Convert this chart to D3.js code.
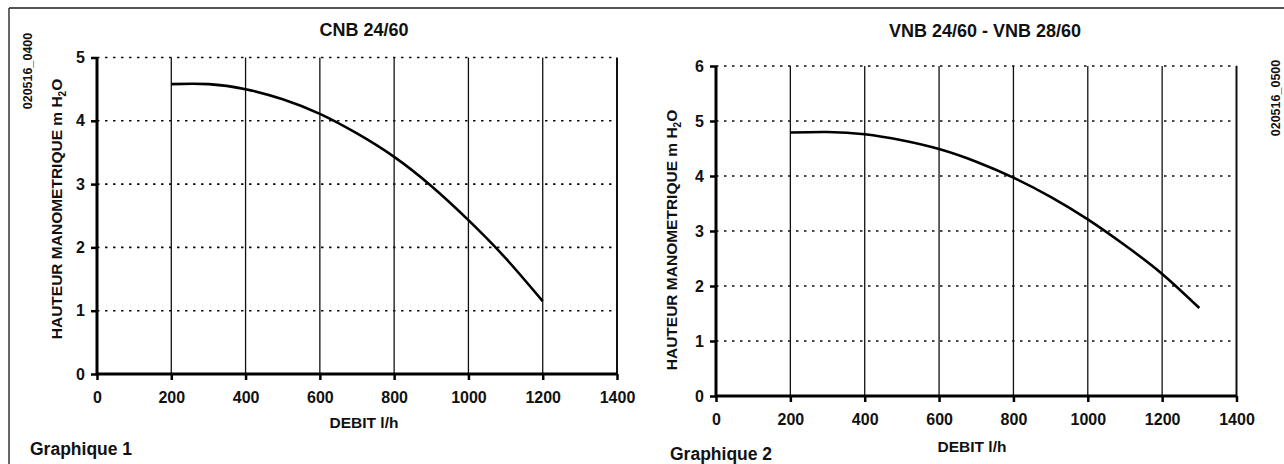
<!DOCTYPE html>
<html>
<head>
<meta charset="utf-8">
<script src="https://cdn.jsdelivr.net/npm/d3@7"></script>
<style>
  body { margin:0; background:#fff; }
  svg text { font-family: "Liberation Sans", Arial, sans-serif; font-weight: bold; fill:#111; }
</style>
</head>
<body>
<div class="svg-container"></div>
<script>
//data
const debitTicks = [0, 200, 400, 600, 800, 1000, 1200, 1400];

const cnbTitle = "CNB 24/60";
const cnbCode = "020516_0400";
const cnbHauteurTicks = [0, 1, 2, 3, 4, 5];
const cnbDebit = [200, 300, 400, 500, 600, 700, 800, 900, 1000, 1100, 1200];
const cnbHauteur = [4.58, 4.58, 4.50, 4.34, 4.11, 3.80, 3.43, 2.97, 2.43, 1.83, 1.15];

const vnbTitle = "VNB 24/60 - VNB 28/60";
const vnbCode = "020516_0500";
const vnbHauteurTicks = [0, 1, 2, 3, 4, 5, 6];
const vnbDebit = [200, 300, 400, 500, 600, 700, 800, 900, 1000, 1100, 1200, 1300];
const vnbHauteur = [4.79, 4.80, 4.76, 4.65, 4.49, 4.26, 3.97, 3.62, 3.21, 2.74, 2.22, 1.60];

const W = 1284, H = 464;

const svg = d3.select(".svg-container")
    .append('svg')
    .attr('width', W)
    .attr('height', H);

//page frame (top and left edges only)
svg.append('line').attr('x1', 9).attr('x2', W).attr('y1', 8).attr('y2', 8)
    .attr('stroke', '#555').attr('stroke-width', 2);
svg.append('line').attr('x1', 9).attr('x2', 9).attr('y1', 8).attr('y2', H)
    .attr('stroke', '#333').attr('stroke-width', 1.5);

function drawPanel(p) {
    const x = d3.scaleLinear().domain([0, 1400]).range([p.left, p.right]);
    const y = d3.scaleLinear().domain([0, d3.max(p.yTicks)]).range([p.bottom, p.top]);
    const g = svg.append('g');

    //dotted horizontal grid
    g.selectAll('.hgrid')
        .data(p.yTicks.filter(d => d > 0))
        .join('line')
        .attr('x1', p.left).attr('x2', p.right)
        .attr('y1', d => y(d)).attr('y2', d => y(d))
        .attr('stroke', '#111').attr('stroke-width', 1.6)
        .attr('stroke-dasharray', '2.5,5.5');

    //solid vertical grid
    g.selectAll('.vgrid')
        .data(debitTicks.filter(d => d > 0))
        .join('line')
        .attr('x1', d => x(d)).attr('x2', d => x(d))
        .attr('y1', p.top).attr('y2', p.bottom)
        .attr('stroke', '#111').attr('stroke-width', d => d === 1400 ? 2 : 1.3);

    //x axis
    const xAxis = d3.axisBottom(x).tickValues(debitTicks).tickFormat(d3.format('d')).tickSize(6).tickPadding(12);
    g.append('g')
        .attr('transform', `translate(0, ${p.bottom})`)
        .call(xAxis)
        .call(a => a.select('.domain').attr('stroke-width', 3).attr('d', `M${p.left},0H${p.right}`))
        .call(a => a.selectAll('.tick line').attr('stroke-width', 2.5))
        .call(a => a.selectAll('.tick text').attr('font-size', 16));

    //y axis
    const yAxis = d3.axisLeft(y).tickValues(p.yTicks).tickFormat(d3.format('d')).tickSize(6).tickPadding(6);
    g.append('g')
        .attr('transform', `translate(${p.left}, 0)`)
        .call(yAxis)
        .call(a => a.select('.domain').attr('stroke-width', 3).attr('d', `M0,${p.bottom}V${p.top}`))
        .call(a => a.selectAll('.tick line').attr('stroke-width', 2.5))
        .call(a => a.selectAll('.tick text').attr('font-size', 16));

    //pump curve
    const line = d3.line()
        .x((d, i) => x(p.debit[i]))
        .y(d => y(d))
        .curve(d3.curveNatural);
    g.append('path')
        .datum(p.hauteur)
        .attr('d', line)
        .attr('fill', 'none')
        .attr('stroke', '#000')
        .attr('stroke-width', 2.6);

    //title
    g.append('text')
        .attr('x', p.titleX).attr('y', p.titleY)
        .attr('text-anchor', 'middle')
        .attr('font-size', 18)
        .text(p.title);

    //x label
    g.append('text')
        .attr('x', p.debitX).attr('y', p.debitY)
        .attr('text-anchor', 'middle')
        .attr('font-size', 15.5)
        .text('DEBIT l/h');

    //y label with subscript
    const yl = g.append('text')
        .attr('transform', `translate(${p.yLabX}, ${p.yLabY}) rotate(-90)`)
        .attr('text-anchor', 'middle')
        .attr('font-size', 15.5);
    yl.append('tspan').text('HAUTEUR MANOMETRIQUE m H');
    yl.append('tspan').attr('font-size', 10).attr('dy', 4).text('2');
    yl.append('tspan').attr('dy', -4).text('O');

    //reference code
    g.append('text')
        .attr('transform', `translate(${p.codeX}, ${p.codeY}) rotate(-90)`)
        .attr('text-anchor', 'middle')
        .attr('font-size', 12.5)
        .text(p.code);

    //caption
    g.append('text')
        .attr('x', p.capX).attr('y', p.capY)
        .attr('font-size', 17.5)
        .text(p.caption);
}

drawPanel({
    left: 97, right: 617, top: 57.5, bottom: 374,
    yTicks: cnbHauteurTicks, debit: cnbDebit, hauteur: cnbHauteur,
    title: cnbTitle, titleX: 364, titleY: 36,
    debitX: 364, debitY: 428,
    yLabX: 62, yLabY: 209,
    code: cnbCode, codeX: 32, codeY: 71,
    caption: 'Graphique 1', capX: 30, capY: 455
});

drawPanel({
    left: 716, right: 1236.5, top: 66, bottom: 396,
    yTicks: vnbHauteurTicks, debit: vnbDebit, hauteur: vnbHauteur,
    title: vnbTitle, titleX: 985, titleY: 37,
    debitX: 972, debitY: 452,
    yLabX: 677, yLabY: 240,
    code: vnbCode, codeX: 1280, codeY: 98,
    caption: 'Graphique 2', capX: 670, capY: 460
});
</script>
</body>
</html>
